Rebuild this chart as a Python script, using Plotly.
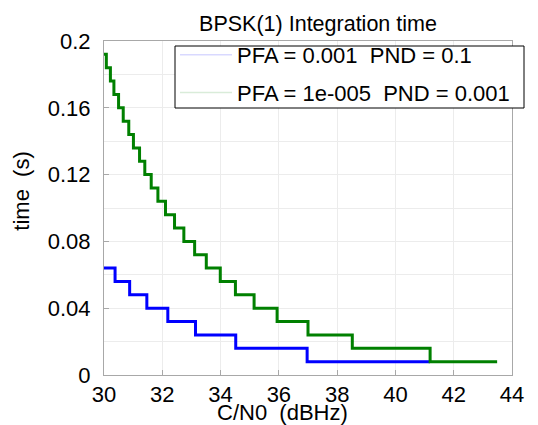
import plotly.graph_objects as go

# C/N0 (dBHz) at which each integration-time level starts (step curves)
blue_x = [30, 30.38, 30.88, 31.47, 32.19, 33.14, 34.52, 36.97, 41.19]
blue_y = [0.064, 0.056, 0.048, 0.040, 0.032, 0.024, 0.016, 0.008, 0.008]

green_x = [30, 30.08, 30.22, 30.34, 30.50, 30.66, 30.85, 31.01, 31.22, 31.40,
           31.62, 31.85, 32.11, 32.42, 32.74, 33.11, 33.51, 33.99, 34.51, 35.15,
           35.94, 37.00, 38.52, 41.19, 43.49]
green_y = [0.192, 0.184, 0.176, 0.168, 0.160, 0.152, 0.144, 0.136, 0.128, 0.120,
           0.112, 0.104, 0.096, 0.088, 0.080, 0.072, 0.064, 0.056, 0.048, 0.040,
           0.032, 0.024, 0.016, 0.008, 0.008]

blue_name = "PFA = 0.001\u00a0 PND = 0.1"
green_name = "PFA = 1e-005\u00a0 PND = 0.001"

x_ticks = [30, 32, 34, 36, 38, 40, 42, 44]
y_ticks = [0, 0.04, 0.08, 0.12, 0.16, 0.2]
y_tick_text = ["0", "0.04", "0.08", "0.12", "0.16", "0.2"]

FONT = "Liberation Sans, Arial, sans-serif"

# the page body has an 8px margin, so the figure is drawn 8px in from the corner
W, H = 530, 417
ML, MR, MT, MB = 96, 26, 33, 50
PW, PH = W - ML - MR, H - MT - MB


def px(x):
    return (x - ML) / PW


def py(y):
    return 1 - (y - MT) / PH


fig = go.Figure()
fig.add_trace(go.Scatter(x=blue_x, y=blue_y, mode="lines", line=dict(color="#0000ff", width=3, shape="hv"),
                         showlegend=False, hoverinfo="skip"))
fig.add_trace(go.Scatter(x=green_x, y=green_y, mode="lines", line=dict(color="#008000", width=3, shape="hv"),
                         showlegend=False, hoverinfo="skip"))
# legend entries (pale samples as in the reference)
fig.add_trace(go.Scatter(x=[None], y=[None], mode="lines", name=blue_name, legendgroup="a",
                         line=dict(color="rgba(0,0,255,0.15)", width=1.5)))
fig.add_trace(go.Scatter(x=[None], y=[None], mode="lines", name=green_name, legendgroup="b",
                         line=dict(color="rgba(0,128,0,0.15)", width=1.5)))

axis_common = dict(showline=True, linecolor="#a8a8a8", linewidth=1, mirror=True,
                   ticks="inside", ticklen=5, tickcolor="#a8a8a8", automargin=False,
                   showgrid=True, gridcolor="#ececec", gridwidth=1, zeroline=False,
                   tickfont=dict(family=FONT, size=22, color="black"))

fig.update_xaxes(range=[30, 44], tickvals=x_ticks, **axis_common)
fig.update_yaxes(range=[0, 0.2], tickvals=y_ticks, ticktext=y_tick_text, ticklabelstandoff=8,
                 minor=dict(tickvals=[0.02, 0.06, 0.10, 0.14, 0.18], showgrid=True, gridcolor="#ececec", ticks=""),
                 **axis_common)

# axis titles (placed where the reference has them)
fig.add_annotation(text="C/N0\u00a0 (dBHz)", xref="paper", yref="paper", x=px(274.5), y=py(404.5),
                   xanchor="center", yanchor="middle", showarrow=False,
                   font=dict(family=FONT, size=22, color="black"))
fig.add_annotation(text="time\u00a0 (s)", xref="paper", yref="paper", x=px(14), y=py(183.7),
                   xanchor="center", yanchor="middle", showarrow=False, textangle=-90,
                   font=dict(family=FONT, size=22, color="black"))

# legend frame
fig.add_shape(type="rect", xref="paper", yref="paper", layer="above",
              x0=px(167), x1=px(516), y0=py(100), y1=py(38),
              line=dict(color="black", width=1), fillcolor="white")

fig.update_layout(
    width=W, height=H,
    margin=dict(l=ML, r=MR, t=MT, b=MB),
    paper_bgcolor="white", plot_bgcolor="white",
    title=dict(text="BPSK(1) Integration time", font=dict(family=FONT, size=21.5, color="black"),
               x=310 / W, xanchor="center", xref="container", y=1 - 15 / H, yanchor="middle", yref="container"),
    legend=dict(x=px(167), xanchor="left", y=py(26), yanchor="top",
                bgcolor="rgba(0,0,0,0)", borderwidth=0, itemwidth=52,
                font=dict(family=FONT, size=22, color="black"), tracegroupgap=6),
    showlegend=True,
)

fig.write_html("out.html")
